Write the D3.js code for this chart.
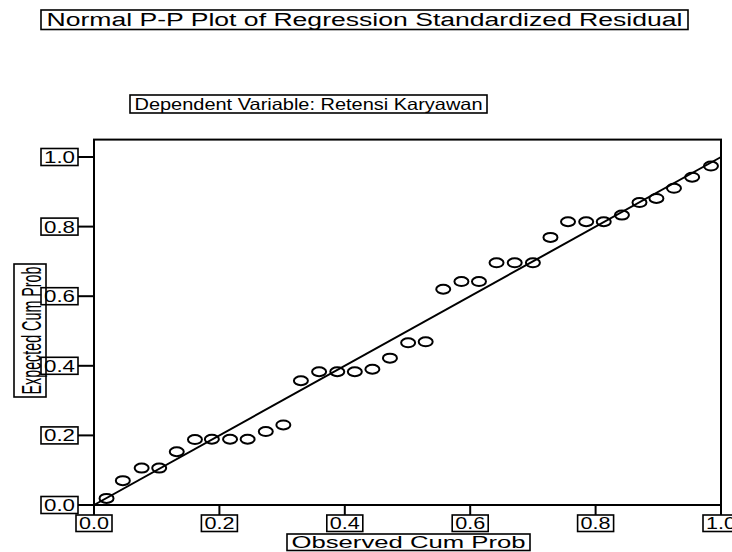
<!DOCTYPE html>
<html>
<head>
<meta charset="utf-8">
<script src="https://cdn.jsdelivr.net/npm/d3@7"></script>
<style>
  html, body { margin: 0; padding: 0; background: #fff; }
  svg { display: block; }
  text { font-family: "Liberation Sans", Arial, sans-serif; fill: #000; }
</style>
</head>
<body>
<svg id="chart" width="732" height="552"></svg>
<script>
// Observed vs expected cumulative probabilities of the standardized residuals
const observedCumProb = [
  0.020, 0.046, 0.076, 0.104, 0.132, 0.161, 0.188, 0.217, 0.245, 0.274,
  0.302, 0.330, 0.359, 0.388, 0.416, 0.444, 0.472, 0.501, 0.529, 0.557,
  0.586, 0.614, 0.642, 0.671, 0.700, 0.728, 0.756, 0.785, 0.813, 0.842,
  0.870, 0.897, 0.925, 0.954, 0.984
];
const expectedCumProb = [
  0.019, 0.070, 0.106, 0.106, 0.153, 0.188, 0.189, 0.189, 0.189, 0.211,
  0.230, 0.357, 0.383, 0.383, 0.383, 0.390, 0.422, 0.466, 0.469, 0.620,
  0.642, 0.642, 0.696, 0.696, 0.696, 0.769, 0.814, 0.814, 0.814, 0.833,
  0.869, 0.881, 0.910, 0.942, 0.974
];
const tickValues = [0.0, 0.2, 0.4, 0.6, 0.8, 1.0];
const tickLabels = ["0.0", "0.2", "0.4", "0.6", "0.8", "1.0"];
const titleText = "Normal P-P Plot of Regression Standardized Residual";
const subtitleText = "Dependent Variable: Retensi Karyawan";
const xTitleText = "Observed Cum Prob";
const yTitleText = "Expected Cum Prob";

const svg = d3.select("#chart");
const x = d3.scaleLinear().domain([0, 1]).range([94, 721]);
const y = d3.scaleLinear().domain([0, 1]).range([505, 157]);

// boxed text helper: box given by left/top/width/height, text stretched to fill
function boxedText(g, bx, by, bw, bh, str, fs, len, baseDy) {
  g.append("rect").attr("x", bx).attr("y", by).attr("width", bw).attr("height", bh)
    .attr("fill", "none").attr("stroke", "#000").attr("stroke-width", 1.6);
  g.append("text").attr("x", bx + bw / 2).attr("y", by + bh / 2 + baseDy)
    .attr("text-anchor", "middle").attr("font-size", fs)
    .attr("textLength", len).attr("lengthAdjust", "spacingAndGlyphs")
    .text(str);
}

// titles
boxedText(svg, 41, 10, 647, 19.5, titleText, 18, 636, 6.5);
boxedText(svg, 130, 95, 357, 18, subtitleText, 16.5, 348, 6);

// frame of the plot area
const frameTop = y(1.05);
svg.append("rect")
  .attr("x", x(0)).attr("y", frameTop)
  .attr("width", x(1) - x(0)).attr("height", y(0) - frameTop)
  .attr("fill", "none").attr("stroke", "#000").attr("stroke-width", 2);

// x axis ticks and boxed labels
const xt = svg.append("g");
tickValues.forEach((v, i) => {
  xt.append("line").attr("x1", x(v)).attr("x2", x(v)).attr("y1", y(0)).attr("y2", 515)
    .attr("stroke", "#000").attr("stroke-width", 2);
  boxedText(xt, x(v) - 18, 515, 36, 16.5, tickLabels[i], 16.5, 30, 6);
});

// y axis ticks and boxed labels
const yt = svg.append("g");
tickValues.forEach((v, i) => {
  yt.append("line").attr("x1", 78).attr("x2", x(0)).attr("y1", y(v)).attr("y2", y(v))
    .attr("stroke", "#000").attr("stroke-width", 2);
  boxedText(yt, 41, y(v) - 8.5, 37, 17, tickLabels[i], 16.5, 31, 6);
});

// axis titles
boxedText(svg, 287, 534, 243, 16.5, xTitleText, 16.5, 234, 6);

const yg = svg.append("g");
yg.append("rect").attr("x", 14).attr("y", 264).attr("width", 32).attr("height", 133)
  .attr("fill", "none").attr("stroke", "#000").attr("stroke-width", 1.6);
yg.append("text")
  .attr("transform", "translate(41,330.5) rotate(-90)")
  .attr("text-anchor", "middle").attr("font-size", 27)
  .attr("textLength", 128).attr("lengthAdjust", "spacingAndGlyphs")
  .text(yTitleText);

// reference diagonal
svg.append("line")
  .attr("x1", x(0)).attr("y1", y(0)).attr("x2", x(1)).attr("y2", y(1))
  .attr("stroke", "#000").attr("stroke-width", 2);

// points
const pts = observedCumProb.map((o, i) => ({ o, e: expectedCumProb[i] }));
svg.append("g").selectAll("ellipse").data(pts).join("ellipse")
  .attr("cx", d => x(d.o)).attr("cy", d => y(d.e))
  .attr("rx", 7).attr("ry", 4.5)
  .attr("fill", "none").attr("stroke", "#000").attr("stroke-width", 2);
</script>
</body>
</html>
